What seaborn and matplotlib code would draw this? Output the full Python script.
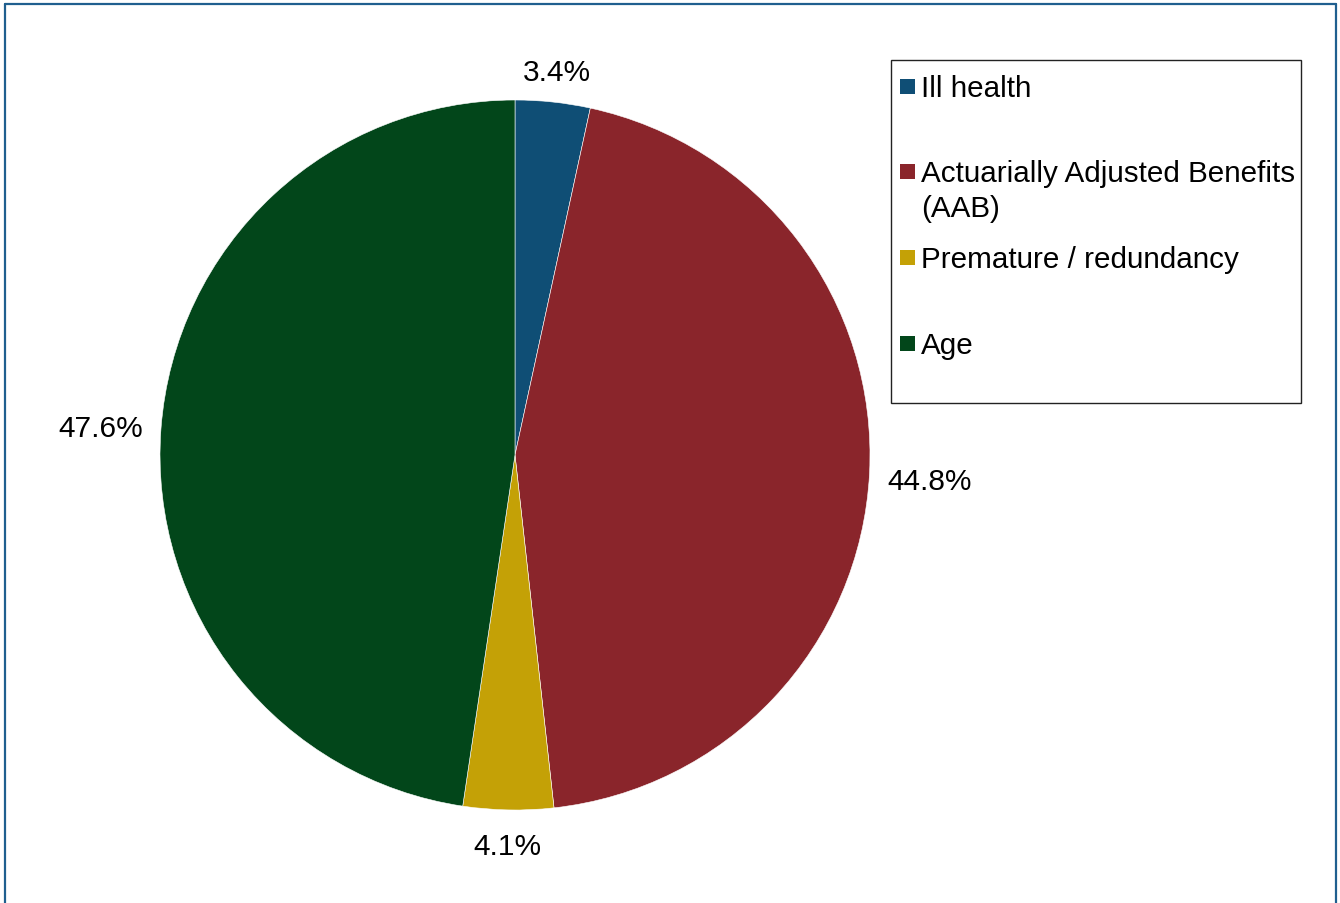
import numpy as np
import seaborn as sns
import matplotlib.pyplot as plt
from matplotlib.patches import Rectangle
from matplotlib.lines import Line2D

# retirement types and their share (%)
categories = ["Ill health", "Actuarially Adjusted Benefits\n(AAB)",
              "Premature / redundancy", "Age"]
shares = [3.4, 44.8, 4.1, 47.6]
pct_labels = ["3.4%", "44.8%", "4.1%", "47.6%"]
colors = ["#0F4E75", "#8A252B", "#C4A106", "#02461A"]

sns.set_theme(style="white")
plt.rcParams['font.family'] = ['Liberation Sans', 'DejaVu Sans']

fig = plt.figure(figsize=(13.4, 9.04), dpi=100)
W, H = 1340, 904
cx, cy, R = 515, 456, 355
ax = fig.add_axes([(cx - R) / W, (H - cy - R) / H, 2 * R / W, 2 * R / H])

wedges, _ = ax.pie(shares, colors=sns.color_palette(colors), startangle=90,
                   counterclock=False,
                   wedgeprops=dict(edgecolor="white", linewidth=0.4))
ax.set_xlim(-1, 1)
ax.set_ylim(-1, 1)
ax.set_aspect("equal")
ax.axis("off")

# percentage labels just outside each slice (label box kept off the rim)
fig.canvas.draw()
renderer = fig.canvas.get_renderer()
gap = 17
for w, lab in zip(wedges, pct_labels):
    ang = np.deg2rad((w.theta1 + w.theta2) / 2)
    c, s = np.cos(ang), np.sin(ang)
    t = ax.text(0, 0, lab, ha="center", va="center", fontsize=21.5,
                color="black", clip_on=False)
    bb = t.get_window_extent(renderer)
    d = R + gap + abs(c) * bb.width / 2 + abs(s) * bb.height / 2
    t.set_position((d * c / R, (d * s - 4) / R))

# legend box
fig.add_artist(Rectangle((891 / W, 1 - 404 / H), 410 / W, 343 / H,
                         transform=fig.transFigure, fill=False,
                         edgecolor="#222222", linewidth=1.0))
leg_y = [88, 173, 259, 345]
for col, lab, y in zip(colors, categories, leg_y):
    fig.add_artist(Rectangle((900 / W, 1 - (y + 7) / H), 15 / W, 15 / H,
                             transform=fig.transFigure, facecolor=col,
                             edgecolor="none"))
    lines = lab.split("\n")
    for k, line in enumerate(lines):
        fig.text(921 / W, 1 - (y + 1 + 35 * k) / H, line, ha="left",
                 va="center", fontsize=21.3, color="black")

# outer frame (bottom edge cut off)
fc = "#1F5F8F"
for xs, ys in [([5, 5], [5, 904]), ([5, 1336], [5, 5]), ([1336, 1336], [5, 904])]:
    fig.add_artist(Line2D([x / W for x in xs], [1 - y / H for y in ys],
                          transform=fig.transFigure, color=fc, linewidth=1.6))

fig.savefig("out.png", dpi=100)
